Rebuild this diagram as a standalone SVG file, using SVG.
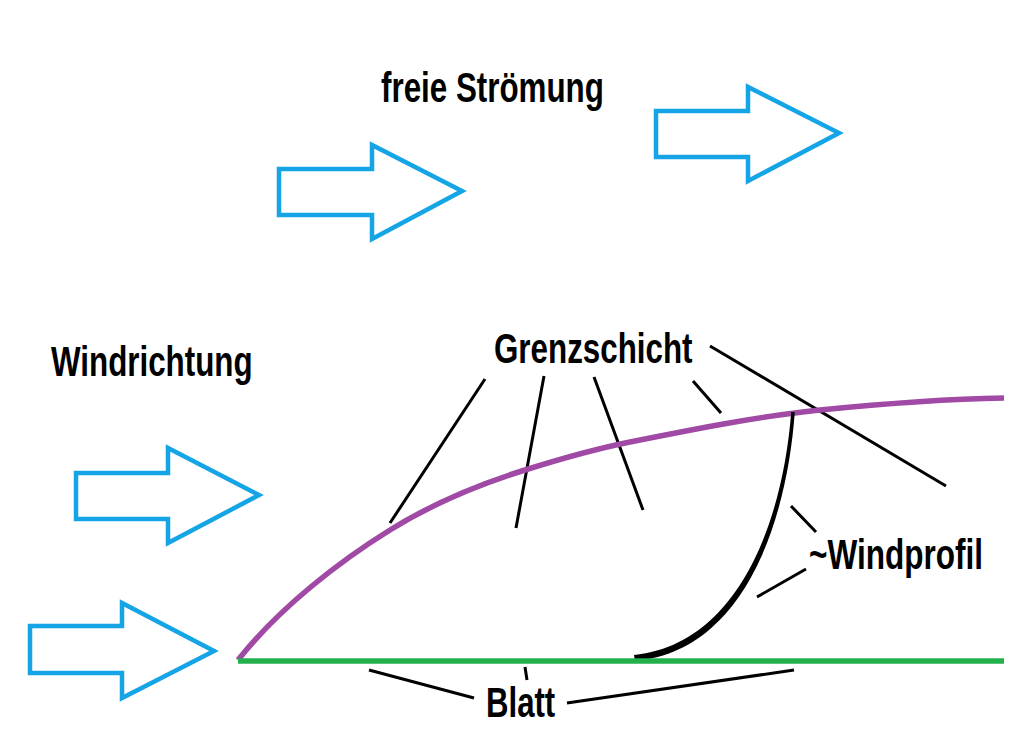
<svg xmlns="http://www.w3.org/2000/svg" width="1024" height="737" viewBox="0 0 1024 737">
<style>
.a{fill:#fff;stroke:#15a5e6;stroke-width:4.5}
.l{fill:none;stroke:#000;stroke-width:3}
text{font-family:"Liberation Sans",Arial,sans-serif;font-weight:700;font-size:38px;fill:#000}
</style>
<rect width="1024" height="737" fill="#fff"/>
<g id="arrows">
<polygon id="arrow1" class="a" points="279,169 372,169 372,145 462,191 372,239 372,215 279,215"/>
<polygon id="arrow2" class="a" points="656,111 748,111 748,87 839,133 748,181 748,157 656,157"/>
<polygon id="arrow3" class="a" points="76,473 168,473 168,448 259,495 168,543 168,519 76,519"/>
<polygon id="arrow4" class="a" points="30,626 122,626 122,603 214,651 122,698 122,673 30,673"/>
</g>
<g id="connectors">
<path class="l" d="M485,379L390,523M544,376L516,528M594,377L643,510M693,381L721,413M710,346L946,486M791,506L816,532M806,569L757,597M369,670L474,698M525,667L527,680M794,670L567,703"/>
<path fill="none" stroke="#a04aa6" stroke-width="5.5" d="M238,660C280,607 340,561 390,530C435,502 480,484 525,470C560,459 595,449 630,442C690,430 760,416 820,410C880,404 950,399 1004,398"/>
<path id="profile" fill="#000" d="M791.2,412C783,520 739,644 634,655L635,661C745,651 787,520 794.8,412Z"/>
<path fill="none" stroke="#22b14c" stroke-width="5.5" d="M238,661H1004"/>
</g>
<g id="labels">
<text id="t1" transform="translate(381,102) scale(.825,1.13)">freie Strömung</text>
<text id="t2" transform="translate(51,376) scale(.825,1.13)">Windrichtung</text>
<text id="t3" transform="translate(494,363) scale(.825,1.13)">Grenzschicht</text>
<text id="t4" transform="translate(809,569) scale(.83,1.13)">~Windprofil</text>
<text id="t5" transform="translate(486,717) scale(.82,1.13)">Blatt</text>
</g>
</svg>
